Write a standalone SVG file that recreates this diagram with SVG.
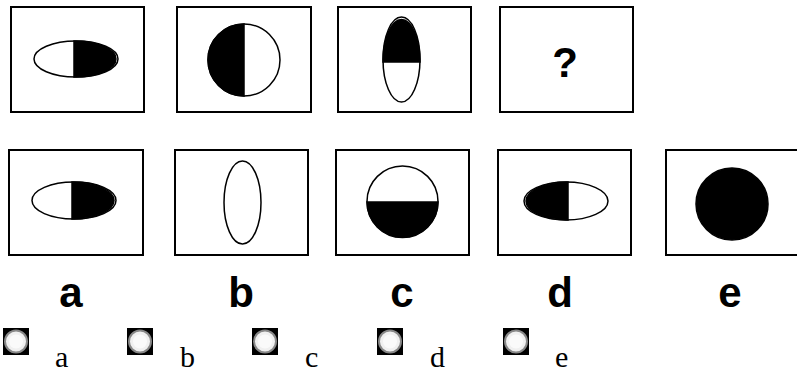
<svg xmlns="http://www.w3.org/2000/svg" width="797" height="374" viewBox="0 0 797 374">
<defs>
<style>
.box{fill:#fff;stroke:#000;stroke-width:2}
.sh{fill:#fff;stroke:#000;stroke-width:1.5}
.bk{fill:#000;stroke:#000;stroke-width:1.5}
.big{font-family:"Liberation Sans",Arial,sans-serif;font-weight:bold;font-size:42px;fill:#000;text-anchor:middle}
.sm{font-family:"Liberation Serif","Times New Roman",serif;font-size:30px;fill:#000}
</style>
<g id="radio">
<rect x="0" y="0" width="26" height="27" fill="#000"/>
<circle cx="13" cy="13.5" r="11" fill="#f0f0f0" stroke="#888" stroke-width="2"/>
<circle cx="13" cy="13.5" r="7" fill="#fafafa"/>
</g>
</defs>
<rect width="797" height="374" fill="#fff"/>
<g id="q1">
<rect class="box" x="11" y="7" width="133" height="105"/>
<ellipse class="sh" cx="76" cy="59" rx="42" ry="18"/>
<path class="bk" d="M74,41 A42,18 0 0 1 74,77 Z"/>
</g>
<g id="q2">
<rect class="box" x="177" y="7" width="134" height="105"/>
<circle class="sh" cx="244" cy="60" r="36"/>
<path class="bk" d="M244,24 A36,36 0 0 0 244,96 Z"/>
</g>
<g id="q3">
<rect class="box" x="338" y="7" width="133" height="105"/>
<ellipse class="sh" cx="401.5" cy="59.5" rx="18.5" ry="42.5"/>
<path class="bk" d="M383,62 A18.5,42.5 0 0 1 420,62 Z"/>
</g>
<g id="q4">
<rect class="box" x="500" y="7" width="133" height="105"/>
<text class="big" x="565" y="77" font-size="40">?</text>
</g>
<g id="opt-a">
<rect class="box" x="9" y="150" width="134" height="105"/>
<ellipse class="sh" cx="74" cy="200.5" rx="42" ry="18.5"/>
<path class="bk" d="M72,182 A42,18.5 0 0 1 72,219 Z"/>
<text class="big" x="71" y="307">a</text>
</g>
<g id="opt-b">
<rect class="box" x="175" y="150" width="133" height="105"/>
<ellipse class="sh" cx="242.5" cy="202.5" rx="18.5" ry="41.5"/>
<text class="big" x="241" y="307">b</text>
</g>
<g id="opt-c">
<rect class="box" x="336" y="150" width="133" height="105"/>
<circle class="sh" cx="402.5" cy="201.5" r="35.5"/>
<path class="bk" d="M367,202 A35.5,35.5 0 0 0 438,202 Z"/>
<text class="big" x="402" y="307">c</text>
</g>
<g id="opt-d">
<rect class="box" x="498" y="150" width="133" height="105"/>
<ellipse class="sh" cx="566" cy="201" rx="42" ry="19"/>
<path class="bk" d="M568,182 A42,19 0 0 0 568,220 Z"/>
<text class="big" x="560" y="307">d</text>
</g>
<g id="opt-e">
<rect class="box" x="666" y="150" width="132" height="105"/>
<circle class="bk" cx="732" cy="204" r="36"/>
<text class="big" x="730" y="307">e</text>
</g>
<g id="answers">
<use href="#radio" x="3" y="328"/>
<text class="sm" x="55" y="367">a</text>
<use href="#radio" x="127" y="328"/>
<text class="sm" x="180" y="367">b</text>
<use href="#radio" x="252" y="328"/>
<text class="sm" x="305" y="367">c</text>
<use href="#radio" x="377" y="328"/>
<text class="sm" x="430" y="367">d</text>
<use href="#radio" x="503" y="328"/>
<text class="sm" x="555" y="367">e</text>
</g>
</svg>
